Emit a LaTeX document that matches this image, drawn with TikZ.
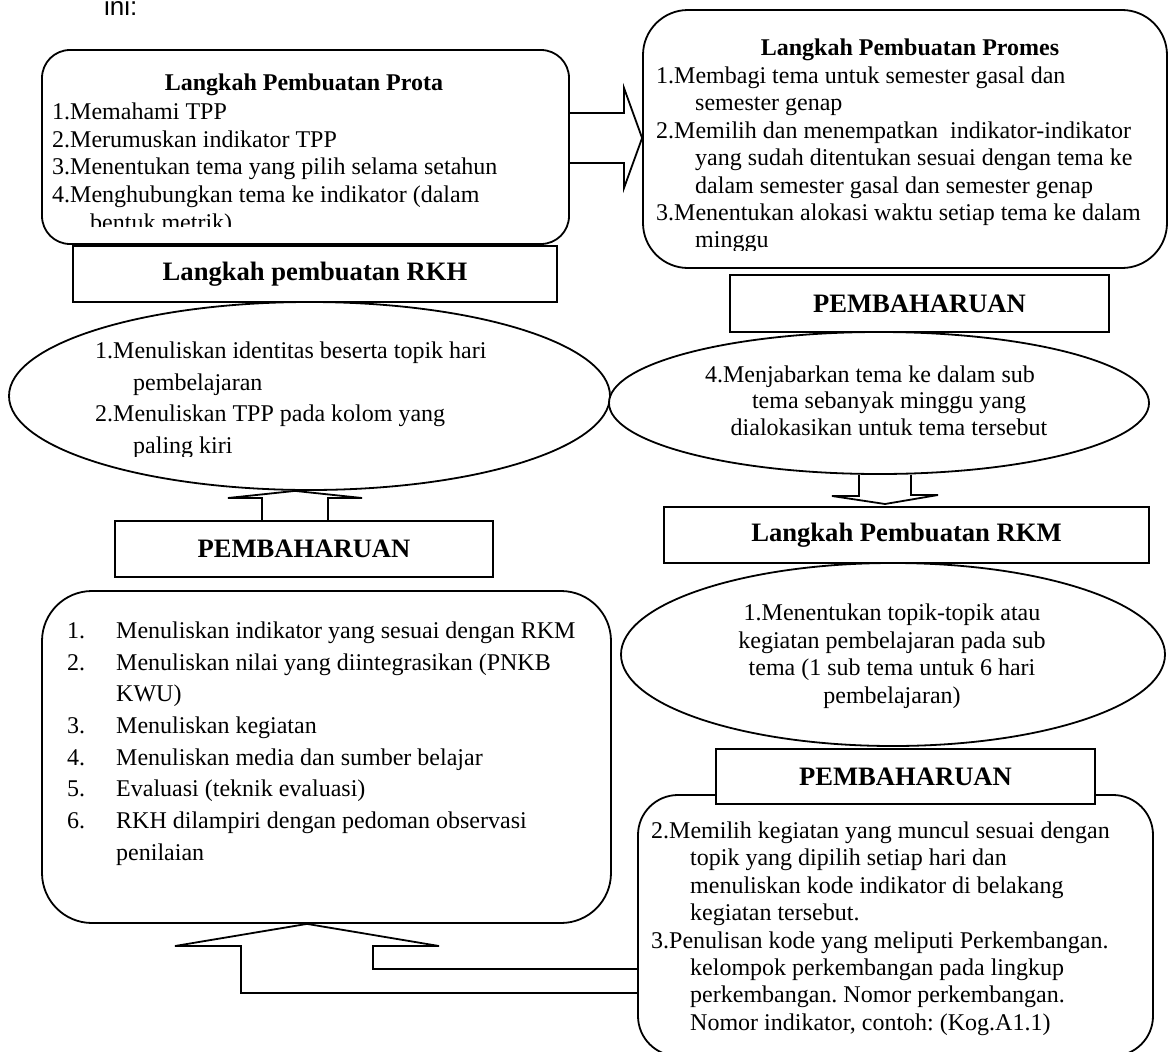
\documentclass[tikz,border=0pt]{standalone}
\usepackage{fontspec}
\setmainfont{Liberation Serif}
\newfontfamily\arialfont{Liberation Sans}
\usetikzlibrary{shapes.geometric, calc}
\frenchspacing

\newcommand{\bodyfont}[1]{\fontsize{24}{#1}\selectfont}
\newcommand{\headfont}{\bfseries\fontsize{26.6}{30}\selectfont}

\begin{document}
\begin{tikzpicture}[x=1pt, y=-1pt,
		panel/.style={draw, fill=white, line width=1.8pt, rounded corners=#1, inner sep=0pt},
		panel/.default=30pt,
		headbox/.style={draw, fill=white, line width=1.8pt, inner sep=0pt, font=\headfont},
		bubble/.style={draw, fill=white, ellipse, line width=1.8pt, inner sep=0pt},
		listtext/.style={align=left, anchor=north west, inner sep=0pt},
		blockarrow/.style={line width=1.8pt, line join=miter}]
		\useasboundingbox (0,0) rectangle (1170,1052);
		\fill[white] (0,0) rectangle (1170,1052);
		\node[anchor=base west, inner sep=0pt, font=\arialfont\fontsize{26}{30}\selectfont] (ini) at (104,15) {ini:};

		% Prota
		\node[panel=28pt, minimum width=527pt, minimum height=194pt] (prota) at (305.5,147) {};
		\begin{scope}
			\clip (prota.north west) rectangle (569,226);
			\node[anchor=base, inner sep=0pt, font=\bfseries\bodyfont{28}] (protatitle) at (304,90) {Langkah Pembuatan Prota};
			\node[listtext, font=\bodyfont{27.7}] (protalist) at (52,102.6) {1.Memahami TPP\\2.Merumuskan indikator TPP\\3.Menentukan tema yang pilih selama setahun\\4.Menghubungkan tema ke indikator (dalam\\\hspace*{38pt}bentuk metrik)};
		\end{scope}

		% Promes
		\node[panel=45pt, minimum width=524pt, minimum height=258pt] (promes) at (905,139) {};
		\begin{scope}
			\clip (promes.north west) rectangle (1167,250);
			\node[anchor=base, inner sep=0pt, font=\bfseries\bodyfont{28}] (promestitle) at (910,55) {Langkah Pembuatan Promes};
			\node[listtext, font=\bodyfont{27.4}] (promeslist) at (656,66.6) {1.Membagi tema untuk semester gasal dan\\\hspace*{39pt}semester genap\\2.Memilih dan menempatkan~ indikator-indikator\\\hspace*{39pt}yang sudah ditentukan sesuai dengan tema ke\\\hspace*{39pt}dalam semester gasal dan semester genap\\3.Menentukan alokasi waktu setiap tema ke dalam\\\hspace*{39pt}minggu};
		\end{scope}

		% panah Prota -> Promes
		\draw[blockarrow] (prota.east |- 0,113) -- (624,113) -- (624,88) -- (promes.west |- 0,138) -- (624,188) -- (624,163) -- (prota.east |- 0,163);

		% RKH
		\node[headbox, minimum width=484pt, minimum height=56pt] (rkhhead) at (315,274) {Langkah pembuatan RKH};
		\node[bubble, minimum width=601pt, minimum height=188pt] (rkhell) at (309.5,396) {};
		\begin{scope}
			\clip (0,302) rectangle (620,456);
			\node[listtext, font=\bodyfont{31.7}] (rkhlist) at (95,341.6) {1.Menuliskan identitas beserta topik hari\\\hspace*{38pt}pembelajaran\\2.Menuliskan TPP pada kolom yang\\\hspace*{38pt}paling kiri};
		\end{scope}
		\node[headbox, minimum width=378pt, minimum height=56pt] (pembL) at (304,549) {PEMBAHARUAN};
		\draw[blockarrow] (pembL.north -| 262,0) -- (262,498) -- (228,498) -- (rkhell.south -| 295,0) -- (362,498) -- (328,498) -- (pembL.north -| 328,0);

		\node[panel=50pt, minimum width=569pt, minimum height=332pt] (rkhsteps) at (326.5,757) {};
		\node[listtext, font=\bodyfont{31.7}] (rkhsteplist) at (67,621.6) {\makebox[49pt][l]{1.}Menuliskan indikator yang sesuai dengan RKM\\\makebox[49pt][l]{2.}Menuliskan nilai yang diintegrasikan (PNKB\\\hspace*{49pt}KWU)\\\makebox[49pt][l]{3.}Menuliskan kegiatan\\\makebox[49pt][l]{4.}Menuliskan media dan sumber belajar\\\makebox[49pt][l]{5.}Evaluasi (teknik evaluasi)\\\makebox[49pt][l]{6.}RKH dilampiri dengan pedoman observasi\\\hspace*{49pt}penilaian};

		% Promes lanjutan
		\node[headbox, minimum width=379pt, minimum height=57pt] (pembR1) at (919.5,303.5) {PEMBAHARUAN};
		\node[bubble, minimum width=540pt, minimum height=142pt] (promesell) at (879,403) {};
		\node[align=center, anchor=north, inner sep=0pt, font=\bodyfont{26.5}] (promestext) at (889,365.6) {4.Menjabarkan tema ke dalam sub\hspace*{38pt}\\tema sebanyak minggu yang\\dialokasikan untuk tema tersebut};
		\draw[blockarrow] (promesell.south -| 859,0) -- (859,496) -- (832,496) -- (885,504) -- (938,495) -- (911,495) -- (promesell.south -| 911,0);

		% RKM
		\node[headbox, minimum width=485pt, minimum height=56pt] (rkmhead) at (906.5,535) {Langkah Pembuatan RKM};
		\node[bubble, minimum width=544pt, minimum height=183pt] (rkmell) at (893,654.5) {};
		\node[align=center, anchor=north, inner sep=0pt, font=\bodyfont{27.6}] (rkmtext) at (892,603.6) {1.Menentukan topik-topik atau\\kegiatan pembelajaran pada sub\\tema (1 sub tema untuk 6 hari\\pembelajaran)};

		\node[panel=40pt, minimum width=515pt, minimum height=261pt] (rkmsteps) at (895.5,925.5) {};
		\node[headbox, minimum width=379pt, minimum height=55pt] (pembR2) at (905.5,776.5) {PEMBAHARUAN};
		\node[listtext, font=\bodyfont{27.4}] (rkmsteplist) at (651,821.6) {2.Memilih kegiatan yang muncul sesuai dengan\\\hspace*{39pt}topik yang dipilih setiap hari dan\\\hspace*{39pt}menuliskan kode indikator di belakang\\\hspace*{39pt}kegiatan tersebut.\\3.Penulisan kode yang meliputi Perkembangan.\\\hspace*{39pt}kelompok perkembangan pada lingkup\\\hspace*{39pt}perkembangan. Nomor perkembangan.\\\hspace*{39pt}Nomor indikator, contoh: (Kog.A1.1)};

		% panah balik ke RKH
		\draw[blockarrow] (rkmsteps.west |- 0,969) -- (373,969) -- (373,946) -- (439,946) -- (rkhsteps.south -| 307,0) -- (175,946) -- (241,946) -- (241,993) -- (rkmsteps.west |- 0,993);
	\end{tikzpicture}
\end{document}
